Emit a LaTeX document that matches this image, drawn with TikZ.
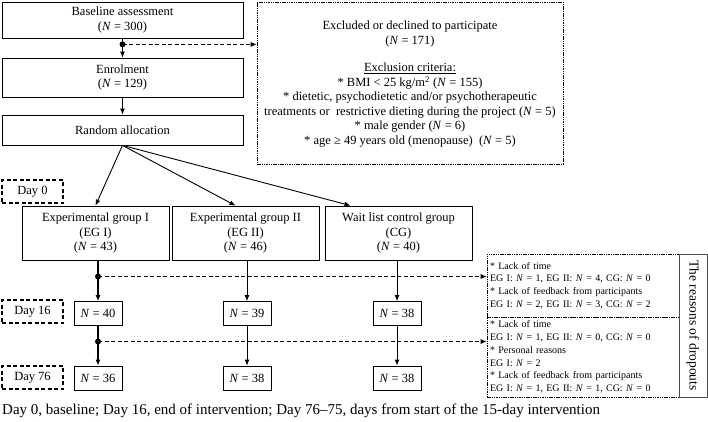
\documentclass[tikz,border=0pt]{standalone}
\usepackage{fontspec}
\setmainfont{Liberation Serif}
\usetikzlibrary{arrows.meta}
\newcommand{\nN}{\textit{N}}
\newcommand{\boxfont}{\fontsize{12.5}{14.5}\selectfont}
\newcommand{\reasonfont}{\fontsize{10}{12.8}\selectfont}
\tikzset{
  flowbox/.style={draw, line width=0.8pt, align=center, inner sep=0pt, font=\boxfont},
  daybox/.style={draw, line width=1.2pt, dash pattern=on 4pt off 2.5pt, inner sep=0pt,
    minimum width=61pt, minimum height=23pt, font=\boxfont},
  countbox/.style={flowbox, minimum width=48pt, minimum height=24pt},
  dotbox/.style={draw, line width=0.6pt, dash pattern=on 1.5pt off 0.8pt, inner sep=0pt},
  reasonbox/.style={dotbox, align=left, font=\reasonfont, text width=186pt, inner xsep=3pt},
  flow/.style={-{Latex[length=6pt,width=5pt]}, line width=0.9pt},
  side/.style={flow, dash pattern=on 4pt off 2.5pt},
  jdot/.style={circle, fill, inner sep=0pt, minimum size=6pt}
}
\begin{document}
\begin{tikzpicture}[x=1pt,y=1pt]
		\useasboundingbox (0,0) rectangle (708,-422);
		\node[flowbox, minimum width=241pt, minimum height=36pt] (base) at (122.5,-20) {Baseline assessment\\(\nN{} = 300)};
		\node[flowbox, minimum width=241pt, minimum height=39pt] (enrol) at (122.5,-77.5) {Enrolment\\(\nN{} = 129)};
		\node[flowbox, minimum width=241pt, minimum height=30pt] (rand) at (122.5,-130) {Random allocation};
		\node[dotbox, minimum width=306pt, minimum height=162pt] (excl) at (410,-83) {};
		\node[align=center, anchor=north, inner sep=0pt, font=\boxfont] (excltext) at (410,-21) {Excluded or declined to participate\\(\nN{} = 171)\\[13pt]
			\underline{Exclusion criteria:}\\
			{*} BMI < 25 kg/m\textsuperscript{2} (\nN{} = 155)\\
			{*} dietetic, psychodietetic and/or psychotherapeutic\\
			treatments or\ \ restrictive dieting during the project (\nN{} = 5)\\
			{*} male gender (\nN{} = 6)\\
			{*} age ≥ 49 years old (menopause)\ \ (\nN{} = 5)};
		\node[daybox] (day0) at (32.5,-191.5) {Day 0};
		\node[flowbox, minimum width=147pt, minimum height=54pt] (eg1) at (95.5,-233) {Experimental group I\\(EG I)\\(\nN{} = 43)};
		\node[flowbox, minimum width=147pt, minimum height=54pt] (eg2) at (245.5,-233) {Experimental group II\\(EG II)\\(\nN{} = 46)};
		\node[flowbox, minimum width=147pt, minimum height=54pt] (cg) at (398.5,-233) {Wait list control group\\(CG)\\(\nN{} = 40)};
		\node[daybox] (day16) at (32.5,-311.5) {Day 16};
		\node[daybox] (day76) at (32.5,-377.5) {Day 76};
		\node[countbox] (n40) at (98,-313.5) {\nN{} = 40};
		\node[countbox] (n39) at (247,-313.5) {\nN{} = 39};
		\node[countbox] (n38a) at (397,-313.5) {\nN{} = 38};
		\node[countbox] (n36) at (98,-378) {\nN{} = 36};
		\node[countbox] (n38b) at (247,-378) {\nN{} = 38};
		\node[countbox] (n38c) at (397,-378) {\nN{} = 38};
		\node[reasonbox, minimum height=63pt] (drop1) at (583,-285.5) {{*} Lack of time\\
			EG I: \nN{} = 1, EG II: \nN{} = 4, CG: \nN{} = 0\\
			{*} Lack of feedback from participants\\
			EG I: \nN{} = 2, EG II: \nN{} = 3, CG: \nN{} = 2};
		\node[reasonbox, minimum height=80pt] (drop2) at (583,-357) {{*} Lack of time\\
			EG I: \nN{} = 1, EG II: \nN{} = 0, CG: \nN{} = 0\\
			{*} Personal reasons\\
			EG I: \nN{} = 2\\
			{*} Lack of feedback from participants\\
			EG I: \nN{} = 1, EG II: \nN{} = 1, CG: \nN{} = 0};
		\node[draw=black!70, line width=0.8pt, rotate=-90, minimum width=143pt, minimum height=28pt, inner sep=0pt, font=\fontsize{13.5}{15}\selectfont] (reasons) at (693,-325.5) {The reasons of dropouts};
		\node[anchor=west, inner sep=0pt, font=\fontsize{15}{17}\selectfont] (note) at (2,-411) {Day 0, baseline; Day 16, end of intervention; Day 76--75, days from start of the 15-day intervention};
		\node[jdot] (split0) at ([yshift=-6pt]base.south) {};
		\draw[flow] (base.south) -- (enrol.north);
		\draw[side] (split0.center) -- (split0.center -| excl.west);
		\draw[flow] (enrol.south) -- (rand.north);
		\draw[flow] (rand.south) -- (eg1.north);
		\draw[flow] (rand.south) -- ([xshift=-10pt]eg2.north);
		\draw[flow] (rand.south) -- ([xshift=-48pt]cg.north);
		\draw[flow, line width=1.4pt] (n40.north |- eg1.south) -- (n40.north);
		\draw[flow] (n39.north |- eg2.south) -- (n39.north);
		\draw[flow] (n38a.north |- cg.south) -- (n38a.north);
		\draw[flow, line width=1.4pt] (n40.south) -- (n36.north);
		\draw[flow] (n39.south) -- (n38b.north);
		\draw[flow] (n38a.south) -- (n38c.north);
		\node[jdot] (split1) at (98,-276.5) {};
		\node[jdot] (split2) at (98,-341.5) {};
		\draw[side] (split1.center) -- (split1.center -| drop1.west);
		\draw[side] (split2.center) -- (split2.center -| drop2.west);
\end{tikzpicture}
\end{document}
